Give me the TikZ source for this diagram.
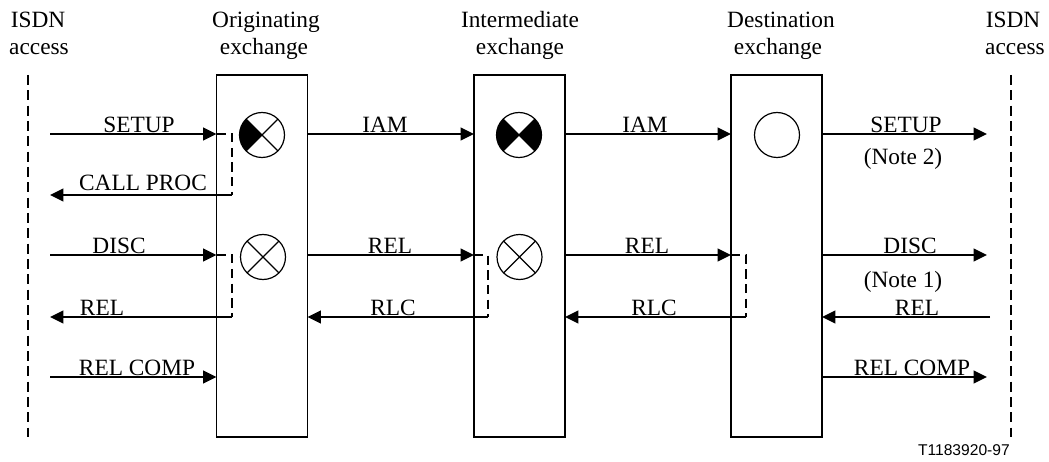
\documentclass[tikz,border=0pt]{standalone}
\usepackage{fontspec}
\setmainfont{Liberation Serif}
\newfontfamily\labsans{Liberation Sans}
\usetikzlibrary{arrows.meta}
\begin{document}
\begin{tikzpicture}[x=0.75pt,y=0.75pt,
  exbox/.style={draw, line width=0.8pt, inner sep=0pt, outer sep=0pt, minimum width=68.25pt, minimum height=271.5pt},
  sym/.style={draw, circle, line width=0.9pt, minimum size=33.75pt, inner sep=0pt, outer sep=0pt},
  xline/.style={line width=0.9pt},
  msg/.style={line width=1.5pt, -{Triangle[length=10pt,width=9.5pt]}},
  brk/.style={line width=1.5pt, dash pattern=on 7pt off 4pt},
  isdn/.style={line width=1.5pt, dash pattern=on 7.5pt off 4pt},
  lab/.style={anchor=base, inner sep=0pt, font=\fontsize{17.5}{20}\selectfont},
  hdr/.style={anchor=base, inner sep=0pt, font=\fontsize{17.5}{20}\selectfont},
]
\useasboundingbox (0,0) rectangle (1049,461);

% headers
\node[hdr] (hL1) at (38,433) {ISDN};
\node[hdr] (hL2) at (39,406) {access};
\node[hdr] (hO1) at (266,433) {Originating};
\node[hdr] (hO2) at (264,406) {exchange};
\node[hdr] (hI1) at (520,433) {Intermediate};
\node[hdr] (hI2) at (520,406) {exchange};
\node[hdr] (hD1) at (781,433) {Destination};
\node[hdr] (hD2) at (778,406) {exchange};
\node[hdr] (hR1) at (1013,433) {ISDN};
\node[hdr] (hR2) at (1015,406) {access};

% ISDN access lines
\coordinate (isdnLt) at (28,386);
\coordinate (isdnLb) at (28,24);
\coordinate (isdnRt) at (1011,386);
\coordinate (isdnRb) at (1011,24);
\draw[isdn] (isdnLt) -- (isdnLb);
\draw[isdn] (isdnRt) -- (isdnRb);

% exchanges
\node[exbox] (orig) at (262,205) {};
\node[exbox] (inter) at (519.5,205) {};
\node[exbox] (dest) at (776.5,205) {};

% symbols
\node[sym] (o1) at (262,326) {};
\node[sym] (o2) at (263,204) {};
\node[sym] (i1) at (519,326) {};
\node[sym] (i2) at (519.5,204) {};
\node[sym] (d1) at (777,326) {};
\fill (o1.center) -- (o1.135) arc[start angle=135, end angle=225, radius=16.875pt] -- cycle;
\fill (i1.center) -- (i1.135) arc[start angle=135, end angle=225, radius=16.875pt] -- cycle;
\fill (i1.center) -- (i1.-45) arc[start angle=-45, end angle=45, radius=16.875pt] -- cycle;
\foreach \s in {o1,o2,i1,i2}{
  \draw[xline] (\s.45) -- (\s.225) (\s.135) -- (\s.315);
}

% levels
\coordinate (ySetup) at (0,327);
\coordinate (yCall) at (0,266);
\coordinate (yDisc) at (0,206);
\coordinate (yRel) at (0,144);
\coordinate (yComp) at (0,84);
\coordinate (aL) at (50,0);
\coordinate (aR) at (987,0);
\coordinate (aRs) at (990,0);
\coordinate (bO) at (232,0);
\coordinate (bI) at (488,0);
\coordinate (bD) at (746,0);

% left access
\draw[msg] (aL |- ySetup) -- (orig.west |- ySetup);
\draw[msg] (bO |- yCall) -- (aL |- yCall);
\draw[msg] (aL |- yDisc) -- (orig.west |- yDisc);
\draw[msg] (bO |- yRel) -- (aL |- yRel);
\draw[msg] (aL |- yComp) -- (orig.west |- yComp);
\draw[brk] (orig.west |- ySetup) -- (bO |- ySetup) -- (bO |- yCall);
\draw[brk] (orig.west |- yDisc) -- (bO |- yDisc) -- (bO |- yRel);

% orig - inter
\draw[msg] (orig.east |- ySetup) -- (inter.west |- ySetup);
\draw[msg] (orig.east |- yDisc) -- (inter.west |- yDisc);
\draw[msg] (bI |- yRel) -- (orig.east |- yRel);
\draw[brk] (inter.west |- yDisc) -- (bI |- yDisc) -- (bI |- yRel);

% inter - dest
\draw[msg] (inter.east |- ySetup) -- (dest.west |- ySetup);
\draw[msg] (inter.east |- yDisc) -- (dest.west |- yDisc);
\draw[msg] (bD |- yRel) -- (inter.east |- yRel);
\draw[brk] (dest.west |- yDisc) -- (bD |- yDisc) -- (bD |- yRel);

% right access
\draw[msg] (dest.east |- ySetup) -- (aR |- ySetup);
\draw[msg] (dest.east |- yDisc) -- (aR |- yDisc);
\draw[msg] (aRs |- yRel) -- (dest.east |- yRel);
\draw[msg] (dest.east |- yComp) -- (aR |- yComp);

% labels
\node[lab] (lSetup) at (139,328.5) {SETUP};
\node[lab] (lCall) at (143,270) {CALL PROC};
\node[lab] (lDisc) at (119,207.5) {DISC};
\node[lab] (lRel) at (102,145.5) {REL};
\node[lab] (lComp) at (137,85.5) {REL COMP};
\node[lab] (lIam1) at (385,328.5) {IAM};
\node[lab] (lRel1) at (390,207.5) {REL};
\node[lab] (lRlc1) at (393,145.5) {RLC};
\node[lab] (lIam2) at (645,328.5) {IAM};
\node[lab] (lRel2) at (647,207.5) {REL};
\node[lab] (lRlc2) at (654,145.5) {RLC};
\node[lab] (rSetup) at (906,328.5) {SETUP};
\node[lab] (rNote2) at (903,296) {(Note 2)};
\node[lab] (rDisc) at (910,207.5) {DISC};
\node[lab] (rNote1) at (903,174) {(Note 1)};
\node[lab] (rRel) at (917,145.5) {REL};
\node[lab] (rComp) at (912,85.5) {REL COMP};

\node[anchor=base east, inner sep=0pt, font=\labsans\fontsize{11.7}{13}\selectfont] (tag) at (1010,5.5) {T1183920-97};
\end{tikzpicture}
\end{document}
